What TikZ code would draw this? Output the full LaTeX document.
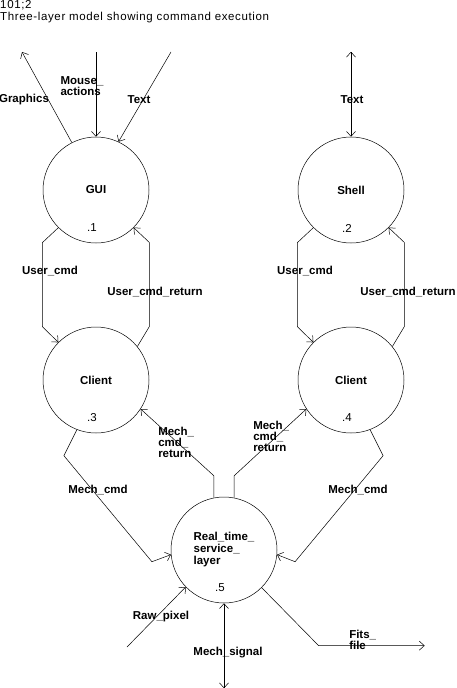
\documentclass[tikz,border=0pt]{standalone}
\usepackage{fontspec}
\setmainfont{Liberation Sans}
\newfontfamily\capfont[LetterSpace=5.5]{Liberation Sans}
\usetikzlibrary{arrows.meta,positioning}

\begin{document}
\begin{tikzpicture}[x=1pt,y=-1pt,on grid,line width=0.5pt,
				>={Straight Barb[length=5pt,width=9pt]},
				process/.style={circle, draw, minimum size=106pt, inner sep=0pt, font=\fontsize{11.5}{12}\selectfont\bfseries},
				flow/.style={inner sep=0pt, align=left, font=\fontsize{11.5}{11}\selectfont\bfseries},
				number/.style={inner sep=0pt, font=\fontsize{11.5}{12}\selectfont},
				caption/.style={inner sep=0pt, anchor=base west, font=\capfont\fontsize{11.5}{12}\selectfont}
			]
			\useasboundingbox (0,0) rectangle (456,688);
			
			\node[caption] (id) at (0,9) {101;2};
			\node[caption] (title) at (0,20.5) {Three-layer model showing command execution};
			
			\node[process] (gui) at (96,190) {GUI};
			\node[process] (shell) [right=255pt of gui] {Shell};
			\node[process] (client_3) [below=190pt of gui] {Client};
			\node[process] (client_4) [below=190pt of shell] {Client};
			\node[process, align=left] (rts) at (224,550) {Real\_time\_\\service\_\\layer};
			
			\node[number] (n_1) [below=38pt of gui, xshift=-4pt] {.1};
			\node[number] (n_2) [below=38pt of shell, xshift=-4pt] {.2};
			\node[number] (n_3) [below=38pt of client_3, xshift=-4pt] {.3};
			\node[number] (n_4) [below=38pt of client_4, xshift=-4pt] {.4};
			\node[number] (n_5) [below=38pt of rts, xshift=-4pt] {.5};
			
			\coordinate (graphics_out) at (22,52);
			\coordinate (mouse_in) at (96,52);
			\coordinate (text_in) at (171,52);
			\coordinate (raw_in) at (127,647);
			
			\node[flow] (l_graphics) at (24,100) {Graphics};
			\node[flow] (l_mouse) at (82,86) {Mouse\_\\actions};
			\node[flow] (l_text_g) at (139,100) {Text};
			\node[flow] (l_text_s) at (352,100) {Text};
			\node[flow] (l_ucmd_3) at (50,271) {User\_cmd};
			\node[flow] (l_uret_3) at (155,292) {User\_cmd\_return};
			\node[flow] (l_ucmd_4) at (305,271) {User\_cmd};
			\node[flow] (l_uret_4) at (408,292) {User\_cmd\_return};
			\node[flow] (l_mcmd_3) at (98,490) {Mech\_cmd};
			\node[flow] (l_mcmd_4) at (358,490) {Mech\_cmd};
			\node[flow, anchor=west] (l_mret_3) at (158,442) {Mech\_\\cmd\_\\return};
			\node[flow, anchor=west] (l_mret_4) at (253,436) {Mech\_\\cmd\_\\return};
			\node[flow] (l_raw) at (161,617) {Raw\_pixel};
			\node[flow] (l_signal) at (228,653) {Mech\_signal};
			\node[flow, anchor=west] (l_fits) at (349,640) {Fits\_\\file};
			
			\draw[->] (gui.117) -- (graphics_out);
			\draw[->] (mouse_in) -- (gui.north);
			\draw[->] (text_in) -- (gui.65);
			\draw[<->] (shell.north) -- ++(0,-85);
			
			\draw[->] (gui.225) -- ++(-16,15) -- ++(0,84) -- (client_3.135);
			\draw[->] (client_3.39) -- ++(12,-20) -- ++(0,-84) -- (gui.315);
			\draw[->] (shell.225) -- ++(-16,15) -- ++(0,84) -- (client_4.135);
			\draw[->] (client_4.39) -- ++(12,-20) -- ++(0,-84) -- (shell.315);
			
			\draw[->] (client_3.249) -- ++(-13,26) -- ++(88,106) -- (rts.185);
			\draw[->] (client_4.291) -- ++(13,26) -- ++(-88,106) -- (rts.355);
			\draw[->] (rts.101) -- ++(0,-22) -- (client_3.327);
			\draw[->] (rts.79) -- ++(0,-22) -- (client_4.213);
			
			\draw[->] (raw_in) -- (rts.224);
			\draw[<->] (rts.south) -- ++(0,85);
			\draw[->] (rts.315) -- ++(57,58) -- ++(106,0);
		\end{tikzpicture}
\end{document}
